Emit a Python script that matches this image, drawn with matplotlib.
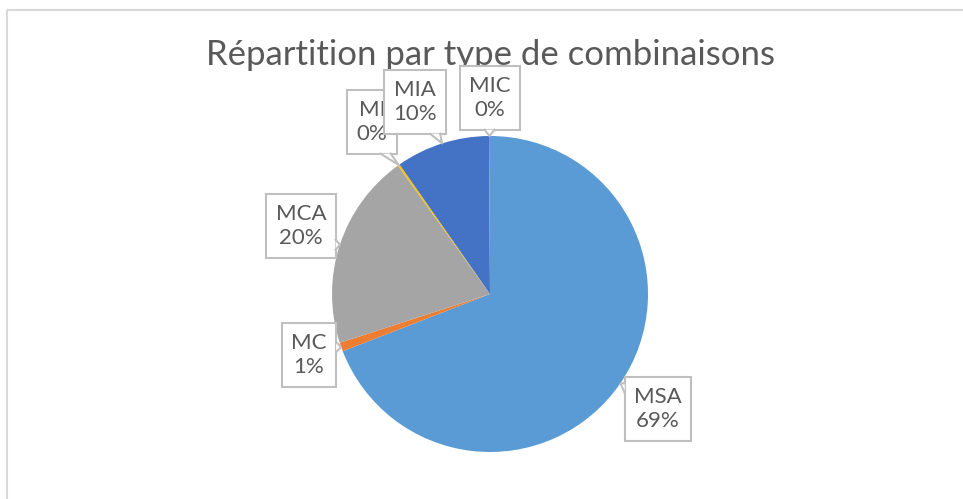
import matplotlib
matplotlib.use("Agg")
import matplotlib.pyplot as plt
from matplotlib.patches import Polygon
import numpy as np

plt.rcParams['font.family'] = ['Lato', 'DejaVu Sans']

# ---- données ----
categories = ['MSA', 'MC', 'MCA', 'MI', 'MIA', 'MIC']
shares = [69.1, 0.9, 20.1, 0.2, 9.6, 0.1]
colors = ['#5B9BD5', '#ED7D31', '#A5A5A5', '#FFC000', '#4472C4', '#70AD47']
title = "Répartition par type de combinaisons"

# ---- mise en page (pixels de l'image) ----
W, H = 963, 499
CX, CY, R = 490, 294, 158
label_centers = {'MSA': (658, 409), 'MC': (309, 355), 'MCA': (301, 226),
                 'MI': (372, 122), 'MIA': (415, 102), 'MIC': (490, 98)}
label_z = {'MSA': 5, 'MC': 5, 'MCA': 5, 'MI': 5, 'MIA': 7, 'MIC': 9}
TXT = '#595959'
EDGE = '#BFBFBF'


def px(x, y):
    return (x - CX) / R, (CY - y) / R


fig = plt.figure(figsize=(W / 100, H / 100), dpi=100)
ax = fig.add_axes([0, 0, 1, 1])

wedges, _ = ax.pie(shares, colors=colors, startangle=90, counterclock=False,
                   radius=1, center=(0, 0), frame=True,
                   wedgeprops=dict(linewidth=0))
ax.set_xlim(-CX / R, (W - CX) / R)
ax.set_ylim(-(H - CY) / R, CY / R)
ax.set_aspect('equal')
ax.axis('off')

# cadre du graphique
frame = '#D9D9D9'
ax.plot([px(6.5, 9.5)[0], px(6.5, H)[0]], [px(6.5, 9.5)[1], px(6.5, H)[1]],
        color=frame, lw=1.5, solid_capstyle='butt', zorder=1)
ax.plot([px(6.5, 9.5)[0], px(W, 9.5)[0]], [px(6.5, 9.5)[1], px(W, 9.5)[1]],
        color=frame, lw=1.5, solid_capstyle='butt', zorder=1)

ax.text(*px(490, 55), title, ha='center', va='center', fontsize=25, color=TXT)

texts = {}
for name, val in zip(categories, shares):
    t = ax.text(*px(*label_centers[name]), f"{name}\n{val:.0f}%", ha='center',
                va='center', fontsize=16, color=TXT, linespacing=1.3,
                zorder=label_z[name],
                bbox=dict(boxstyle='square,pad=0.42', fc='white', ec=EDGE, lw=1.5))
    texts[name] = t

fig.canvas.draw()
inv = ax.transData.inverted()

# pointeurs des étiquettes vers le milieu de chaque secteur
for w, name in zip(wedges, categories):
    mid = np.deg2rad((w.theta1 + w.theta2) / 2)
    tip_d = (np.cos(mid), np.sin(mid))
    tx, ty = ax.transData.transform(tip_d)
    bb = texts[name].get_bbox_patch().get_window_extent()
    x0, y0, x1, y1 = bb.x0, bb.y0, bb.x1, bb.y1
    dx = max(x0 - tx, tx - x1, 0)
    dy = max(y0 - ty, ty - y1, 0)
    hw, m = 5, 6
    if dx >= dy:
        ex = x0 if tx < x0 else x1
        c = min(max(ty, y0 + m + hw), y1 - m - hw)
        base = [(ex, c - hw), (ex, c + hw)]
    else:
        ey = y0 if ty < y0 else y1
        c = min(max(tx, x0 + m + hw), x1 - m - hw)
        base = [(c - hw, ey), (c + hw, ey)]
    pts = [inv.transform(p) for p in (base[0], (tx, ty), base[1])]
    z = label_z[name] + 0.5
    ax.add_patch(Polygon(pts, closed=True, fc='white', ec='none', zorder=z))
    ax.plot([p[0] for p in pts], [p[1] for p in pts], color=EDGE, lw=1.5,
            zorder=z)

fig.savefig('out.png', dpi=100, facecolor='white')
